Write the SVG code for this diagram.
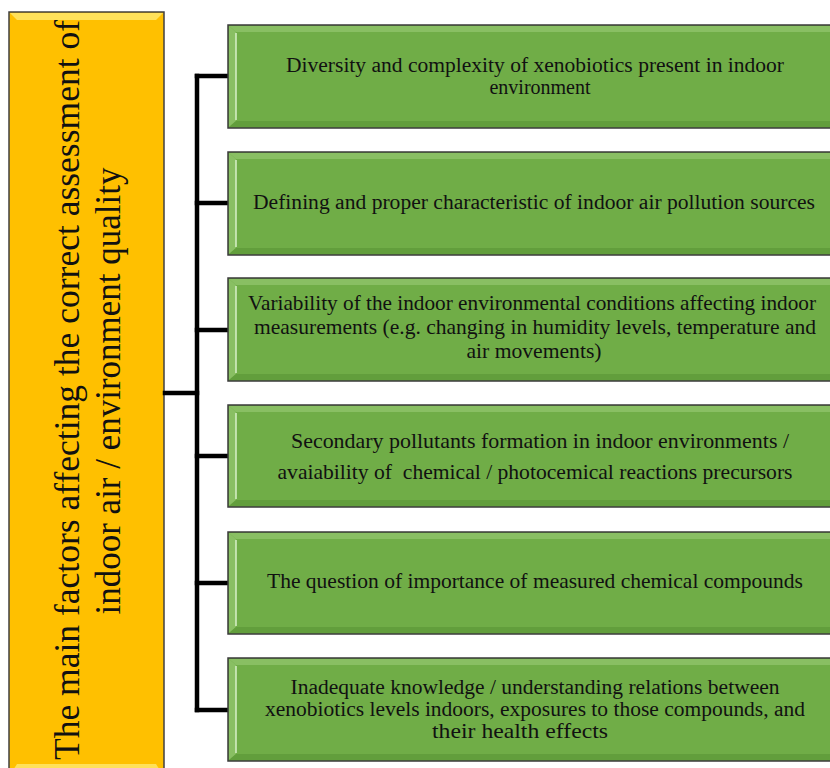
<svg xmlns="http://www.w3.org/2000/svg" width="830" height="768" viewBox="0 0 830 768">
<defs>
<style>
.gbox{fill:#70AD47;stroke:#3a3a3a;stroke-width:1.5}
.glt{fill:#89BF63}
.gdk{fill:#629E3C}
.ghl{fill:none;stroke:#D8F0C8;stroke-width:1.5}
.ybox{fill:#FFC000;stroke:#404040;stroke-width:1.5}
.ylt{fill:#FFE15A}
.t{font-family:'Liberation Serif','Times New Roman',serif;font-size:21px;fill:#111;text-anchor:middle}
.pa{font-size:20px}
.vt{font-family:'Liberation Serif','Times New Roman',serif;font-size:35px;fill:#111;text-anchor:middle}
.ln{fill:none;stroke:#000;stroke-width:4.5;stroke-linecap:square}
</style>
</defs>
<rect width="830" height="768" fill="#fff"/>
<g id="main">
<rect class="ybox" x="9" y="12" width="155" height="765"/>
<polygon class="ylt" points="10,13 163,13 156,20 17,20"/>
<polygon class="ylt" points="10,775 163,775 156,764 17,764"/>
<text class="vt" transform="translate(79,390) rotate(-90)" textLength="740" lengthAdjust="spacingAndGlyphs">The main factors affecting the correct assessment of</text>
<text class="vt" transform="translate(120,391) rotate(-90)" textLength="447" lengthAdjust="spacingAndGlyphs">indoor air / environment quality</text>
</g>
<g id="connectors">
<path class="ln" d="M197,76 V710"/>
<path class="ln" d="M165,393 H197"/>
<path class="ln" d="M197,76 H228 M197,203 H228 M197,330 H228 M197,456 H228 M197,583 H228 M197,710 H228"/>
</g>
<g id="n1">
<rect class="gbox" x="228" y="25" width="610" height="103"/>
<polygon class="glt" points="229,26 838,26 838,32 236,32"/>
<polygon class="glt" points="229,26 236,32 236,121 229,127"/>
<polygon class="gdk" points="229,127 236,121 838,121 838,127"/>
<path class="ghl" d="M236,33 V120"/>
<text class="t pa" x="535" y="72" textLength="498" lengthAdjust="spacingAndGlyphs">Diversity and complexity of xenobiotics present in indoor</text>
<text class="t pa" x="540" y="94">environment</text>
</g>
<g id="n2">
<rect class="gbox" x="228" y="152" width="610" height="103"/>
<polygon class="glt" points="229,153 838,153 838,159 236,159"/>
<polygon class="glt" points="229,153 236,159 236,248 229,254"/>
<polygon class="gdk" points="229,254 236,248 838,248 838,254"/>
<path class="ghl" d="M236,160 V247"/>
<text class="t pa" x="534" y="209" textLength="562" lengthAdjust="spacingAndGlyphs">Defining and proper characteristic of indoor air pollution sources</text>
</g>
<g id="n3">
<rect class="gbox" x="228" y="278" width="610" height="103"/>
<polygon class="glt" points="229,279 838,279 838,285 236,285"/>
<polygon class="glt" points="229,279 236,285 236,374 229,380"/>
<polygon class="gdk" points="229,380 236,374 838,374 838,380"/>
<path class="ghl" d="M236,286 V373"/>
<text class="t" x="532" y="310" textLength="568" lengthAdjust="spacingAndGlyphs">Variability of the indoor environmental conditions affecting indoor</text>
<text class="t" x="535" y="334" textLength="562" lengthAdjust="spacingAndGlyphs">measurements (e.g. changing in humidity levels, temperature and</text>
<text class="t" x="534" y="358" textLength="135" lengthAdjust="spacingAndGlyphs">air movements)</text>
</g>
<g id="n4">
<rect class="gbox" x="228" y="405" width="610" height="102"/>
<polygon class="glt" points="229,406 838,406 838,412 236,412"/>
<polygon class="glt" points="229,406 236,412 236,500 229,506"/>
<polygon class="gdk" points="229,506 236,500 838,500 838,506"/>
<path class="ghl" d="M236,413 V499"/>
<text class="t" x="540" y="448" textLength="498" lengthAdjust="spacingAndGlyphs">Secondary pollutants formation in indoor environments /</text>
<text class="t" x="535" y="479" textLength="515" lengthAdjust="spacingAndGlyphs" xml:space="preserve">avaiability of  chemical / photocemical reactions precursors</text>
</g>
<g id="n5">
<rect class="gbox" x="228" y="532" width="610" height="102"/>
<polygon class="glt" points="229,533 838,533 838,539 236,539"/>
<polygon class="glt" points="229,533 236,539 236,627 229,633"/>
<polygon class="gdk" points="229,633 236,627 838,627 838,633"/>
<path class="ghl" d="M236,540 V626"/>
<text class="t" x="535" y="588" textLength="536" lengthAdjust="spacingAndGlyphs">The question of importance of measured chemical compounds</text>
</g>
<g id="n6">
<rect class="gbox" x="228" y="658" width="610" height="103"/>
<polygon class="glt" points="229,659 838,659 838,665 236,665"/>
<polygon class="glt" points="229,659 236,665 236,754 229,760"/>
<polygon class="gdk" points="229,760 236,754 838,754 838,760"/>
<path class="ghl" d="M236,666 V753"/>
<text class="t pa" x="535" y="694" textLength="489" lengthAdjust="spacingAndGlyphs">Inadequate knowledge / understanding relations between</text>
<text class="t pa" x="535" y="716" textLength="540" lengthAdjust="spacingAndGlyphs">xenobiotics levels indoors, exposures to those compounds, and</text>
<text class="t" x="520" y="738" textLength="176" lengthAdjust="spacingAndGlyphs">their health effects</text>
</g>
</svg>
